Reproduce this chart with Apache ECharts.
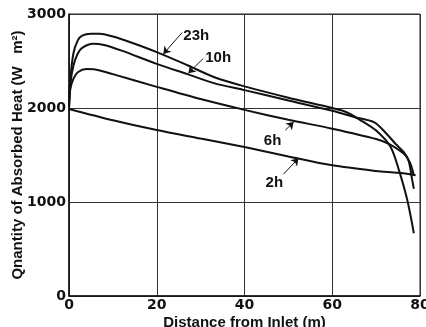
<!DOCTYPE html>
<html>
<head>
<meta charset="utf-8">
<script src="https://cdn.jsdelivr.net/npm/echarts@6/dist/echarts.min.js"></script>
<style>
html, body { margin: 0; padding: 0; background: #fff; }
#chart { width: 426px; height: 327px; }
</style>
</head>
<body>
<div id="chart"></div>
<script>
// distance from inlet (m) and absorbed heat (W m-2)
const dist2h = [0, 10, 20, 30, 40, 50, 60, 70, 75, 79]
const heat2h = [1990, 1870, 1765, 1675, 1585, 1485, 1390, 1330, 1310, 1285]

const dist6h = [0, 0.3, 1, 2, 4, 6, 10, 20, 30, 40, 50, 60, 70, 73, 76.5, 77.7, 78.6]
const heat6h = [2000, 2200, 2310, 2380, 2415, 2410, 2360, 2225, 2095, 1980, 1875, 1780, 1670, 1615, 1505, 1420, 1285]

const dist10h = [0, 0.3, 1, 2, 3, 5.5, 8, 12, 20, 27, 33, 40, 50, 60, 65, 69.5, 72, 74.4, 76.3, 77.4, 78.2, 78.6]
const heat10h = [2000, 2250, 2450, 2580, 2640, 2683, 2670, 2610, 2470, 2360, 2265, 2190, 2080, 1970, 1905, 1850, 1745, 1620, 1530, 1440, 1240, 1140]

const dist23h = [0, 0.3, 1, 2, 3, 5, 7, 10, 14, 20, 27, 33, 40, 50, 60, 63, 66.4, 70, 73.3, 75.2, 77.1, 78.6]
const heat23h = [2000, 2300, 2580, 2720, 2770, 2790, 2790, 2760, 2700, 2595, 2455, 2330, 2230, 2110, 2000, 1960, 1872, 1760, 1586, 1339, 1021, 668]

const xTicks = [0, 20, 40, 60, 80]
const yTicks = [0, 1000, 2000, 3000]

// curve labels and leader arrows (data coords)
const labelNames = ['23h', '10h', '6h', '2h']
const labelPos = [[29.0, 2771], [34.0, 2537], [46.4, 1646], [46.8, 1201]]
const arrowFrom = [[25.8, 2803], [30.6, 2527], [49.3, 1764], [48.9, 1297]]
const arrowTo = [[21.5, 2575], [27.2, 2370], [51.2, 1850], [52.3, 1465]]

const pairs = (xs, ys) => xs.map((x, i) => [x, ys[i]])

const chart = echarts.init(document.getElementById('chart'))

const lineStyle = { color: '#111', width: 2 }

const makeSeries = (name, data) => ({
  name: name,
  type: 'line',
  data: data,
  showSymbol: false,
  smooth: 0.3,
  lineStyle: lineStyle,
  silent: true,
  animation: false
})

const annoSeries = {
  name: 'labels',
  type: 'line',
  data: [],
  silent: true,
  animation: false,
  markPoint: {
    symbol: 'circle',
    symbolSize: 0,
    label: {
      show: true,
      position: 'inside',
      color: '#111',
      fontWeight: 'bold',
      fontSize: 15,
      fontFamily: 'Liberation Sans'
    },
    data: labelNames.map((n, i) => ({ coord: labelPos[i], value: n }))
  },
  markLine: {
    symbol: ['none', 'arrow'],
    symbolSize: 7,
    label: { show: false },
    lineStyle: { color: '#111', width: 1, type: 'solid' },
    data: arrowFrom.map((p, i) => [{ coord: p }, { coord: arrowTo[i] }])
  }
}

const option = {
  backgroundColor: '#fff',
  grid: {
    left: 69,
    right: 6,
    top: 14,
    bottom: 31,
    outerBoundsMode: 'none',
    containLabel: false,
    show: true,
    borderColor: '#222',
    borderWidth: 1
  },
  xAxis: {
    type: 'value',
    min: xTicks[0],
    max: xTicks[xTicks.length - 1],
    interval: 20,
    name: 'Distance from Inlet (m)',
    nameLocation: 'middle',
    nameGap: 19,
    nameMoveOverlap: false,
    nameTextStyle: {
      color: '#111',
      fontWeight: 'bold',
      fontSize: 15,
      fontFamily: 'Liberation Sans'
    },
    axisLine: { lineStyle: { color: '#111', width: 1.5 } },
    axisTick: { show: false },
    axisLabel: {
      color: '#111',
      fontWeight: 'bold',
      fontSize: 14,
      fontFamily: 'DejaVu Sans',
      margin: 2,
      formatter: (v) => String(v)
    },
    splitLine: { lineStyle: { color: '#333', width: 1 } }
  },
  yAxis: {
    type: 'value',
    min: yTicks[0],
    max: yTicks[yTicks.length - 1],
    interval: 1000,
    name: 'Qnantity of Absorbed Heat (W   m²)',
    nameLocation: 'middle',
    nameGap: 44,
    nameMoveOverlap: false,
    nameTextStyle: {
      color: '#111',
      fontWeight: 'bold',
      fontSize: 15,
      fontFamily: 'Liberation Sans'
    },
    axisLine: { show: true, lineStyle: { color: '#111', width: 1.5 } },
    axisTick: { show: false },
    axisLabel: {
      color: '#111',
      fontWeight: 'bold',
      fontSize: 14,
      fontFamily: 'DejaVu Sans',
      margin: 3,
      formatter: (v) => String(v)
    },
    splitLine: { lineStyle: { color: '#333', width: 1 } }
  },
  series: [
    makeSeries('2h', pairs(dist2h, heat2h)),
    makeSeries('6h', pairs(dist6h, heat6h)),
    makeSeries('10h', pairs(dist10h, heat10h)),
    makeSeries('23h', pairs(dist23h, heat23h)),
    annoSeries
  ]
}

chart.setOption(option)
</script>
</body>
</html>
